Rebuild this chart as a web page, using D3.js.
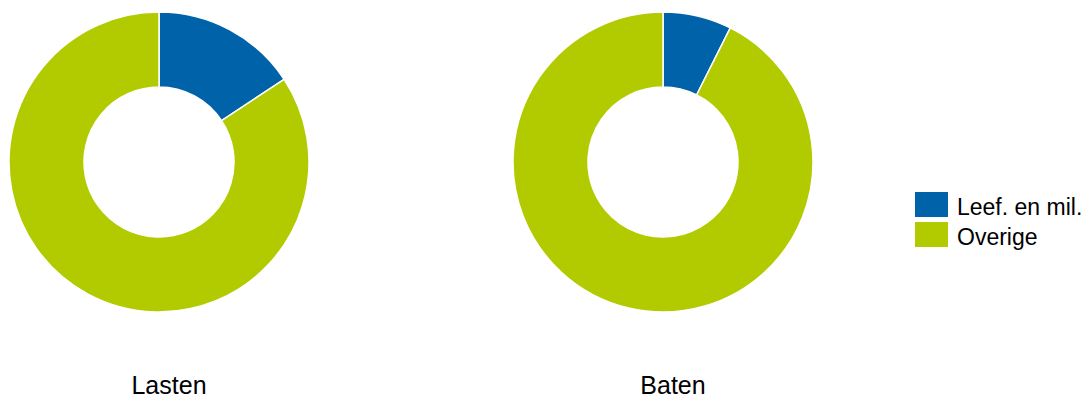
<!DOCTYPE html>
<html>
<head>
    <meta charset="utf-8">
    <script src="https://d3js.org/d3.v7.min.js"></script>
    <style>
        body { margin: 0; background: #fff; }
        text { font-family: "Liberation Sans", Arial, sans-serif; fill: #000; }
    </style>
</head>
<body>
    <svg id="chart" width="1089" height="400"></svg>
    <script>
        // data
        var categories = ["Leef. en mil.", "Overige"];
        var charts = ["Lasten", "Baten"];
        var lastenValues = [15.7, 84.3];
        var batenValues = [7.4, 92.6];
        var colors = ["#0063a9", "#b2cb00"];

        var svg = d3.select("#chart");
        var outerR = 150, innerR = 75;
        var centers = [159, 663], cy = 162;

        var color = d3.scaleOrdinal().domain(categories).range(colors);
        var pie = d3.pie().sort(null).value(function (d) { return d.v; });
        var arc = d3.arc().innerRadius(innerR).outerRadius(outerR);

        [lastenValues, batenValues].forEach(function (vals, i) {
            var data = categories.map(function (c, j) { return { c: c, v: vals[j] }; });
            var g = svg.append("g").attr("transform", "translate(" + centers[i] + "," + cy + ")");
            g.selectAll("path").data(pie(data)).enter().append("path")
                .attr("d", arc)
                .attr("fill", function (d) { return color(d.data.c); })
                .attr("stroke", "#fff")
                .attr("stroke-width", 1.5);

            svg.append("text")
                .attr("x", centers[i] + 10)
                .attr("y", 394)
                .attr("text-anchor", "middle")
                .style("font-size", "25px")
                .text(charts[i]);
        });

        // legend
        var legend = svg.append("g").attr("transform", "translate(915,192)");
        var items = legend.selectAll("g").data(categories).enter().append("g")
            .attr("transform", function (d, i) { return "translate(0," + (i * 30) + ")"; });
        items.append("rect").attr("width", 33).attr("height", 25)
            .attr("fill", function (d) { return color(d); });
        items.append("text").attr("x", 42).attr("y", 23)
            .style("font-size", "23px")
            .text(function (d) { return d; });
    </script>
</body>
</html>
